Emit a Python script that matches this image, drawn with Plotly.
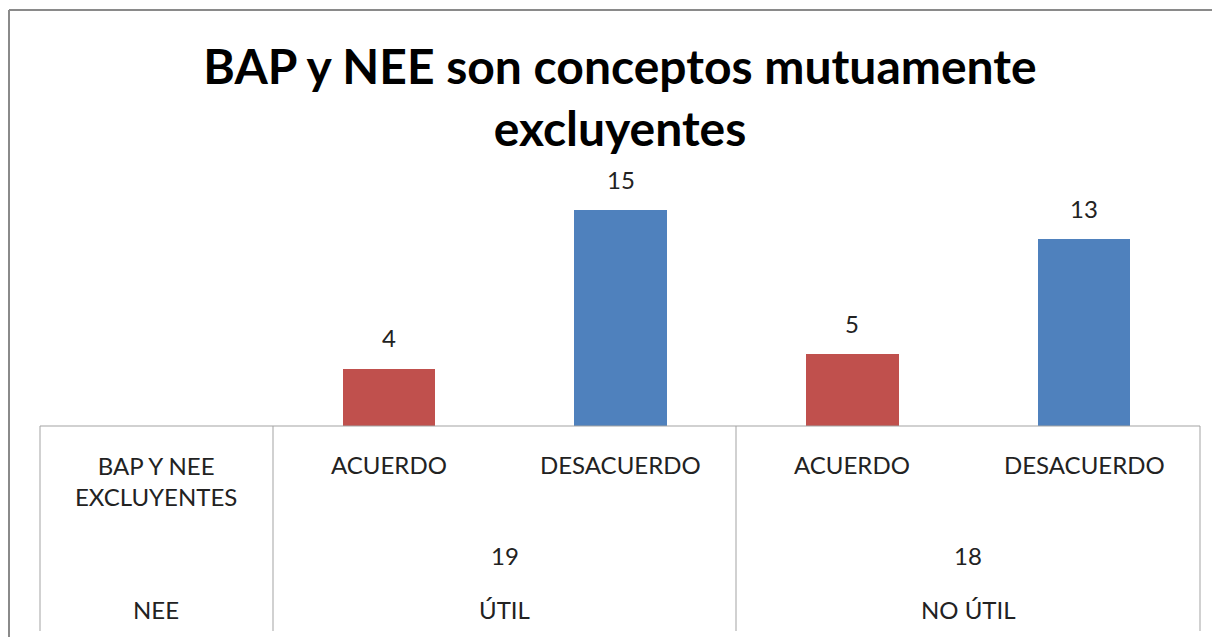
import plotly.graph_objects as go

# ---- data ----
categories = ["ACUERDO", "DESACUERDO", "ACUERDO", "DESACUERDO"]
values = [4, 15, 5, 13]
groups = ["ÚTIL", "NO ÚTIL"]
group_totals = [19, 18]
row_headers = ["BAP Y NEE<br>EXCLUYENTES", "NEE"]
title_text = "BAP y NEE son conceptos mutuamente<br>excluyentes"

W, H = 1220, 637
OFF = 8  # page body margin
RED = "#C0504D"
BLUE = "#4F81BD"
GRID = "#A3A3A3"
FONT = "Lato, 'Open Sans', sans-serif"
TXT = 24


def px(x):
    return (x - OFF) / W


def py(y):
    return 1 - (y - OFF) / H


xpos = list(range(len(categories)))
colors = [RED if c == "ACUERDO" else BLUE for c in categories]

fig = go.Figure()
fig.add_trace(go.Bar(
    x=xpos, y=values, width=0.4,
    marker=dict(color=colors, line=dict(width=0)),
    hovertext=categories, showlegend=False,
))

annotations = []
# data labels above bars
for xi, v in zip(xpos, values):
    annotations.append(dict(x=xi, y=v, xref="x", yref="y", text=str(v),
                            showarrow=False, yanchor="bottom", yshift=14,
                            font=dict(family=FONT, size=TXT, color="#222")))
# category labels row
for xi, c in zip(xpos, categories):
    annotations.append(dict(x=xi, y=py(464), xref="x", yref="paper", text=c,
                            showarrow=False, xanchor="center", yanchor="middle",
                            font=dict(family=FONT, size=TXT, color="#222")))
# group totals and group names
per = len(categories) // len(groups)
for gi, (g, t) in enumerate(zip(groups, group_totals)):
    center = gi * per + (per - 1) / 2
    annotations.append(dict(x=center, y=py(555), xref="x", yref="paper", text=str(t),
                            showarrow=False, xanchor="center", yanchor="middle",
                            font=dict(family=FONT, size=TXT, color="#222")))
    annotations.append(dict(x=center, y=py(609), xref="x", yref="paper", text=g,
                            showarrow=False, xanchor="center", yanchor="middle",
                            font=dict(family=FONT, size=TXT, color="#222")))
# row headers
annotations.append(dict(x=px(156), y=py(481), xref="paper", yref="paper", text=row_headers[0],
                        showarrow=False, xanchor="center", yanchor="middle",
                        font=dict(family=FONT, size=TXT, color="#222")))
annotations.append(dict(x=px(156), y=py(609), xref="paper", yref="paper", text=row_headers[1],
                        showarrow=False, xanchor="center", yanchor="middle",
                        font=dict(family=FONT, size=TXT, color="#222")))

line = dict(color=GRID, width=1)
shapes = [
    # outer chart border (left + top)
    dict(type="line", xref="paper", yref="paper", x0=px(9), x1=px(9), y0=py(10), y1=py(660),
         line=dict(color="#8A8A8A", width=2)),
    dict(type="line", xref="paper", yref="paper", x0=px(9), x1=px(1240), y0=py(10), y1=py(10),
         line=dict(color="#8A8A8A", width=2)),
    # table top / axis line
    dict(type="line", xref="paper", yref="paper", x0=px(40), x1=px(1200), y0=py(426), y1=py(426), line=line),
]
for xv in [40, 273, 736, 1200]:
    shapes.append(dict(type="line", xref="paper", yref="paper", x0=px(xv), x1=px(xv),
                       y0=py(426), y1=py(631), line=line))

fig.update_layout(
    width=W, height=H,
    margin=dict(l=0, r=0, t=0, b=0),
    paper_bgcolor="white", plot_bgcolor="white",
    title=dict(text=title_text, x=px(620), xanchor="center", xref="paper",
               y=py(84), yanchor="middle", yref="paper",
               font=dict(family=FONT, size=48, color="#000", weight="bold")),
    xaxis=dict(domain=[px(273), px(1200)], range=[-0.5, 3.5], showticklabels=False,
               showgrid=False, zeroline=False, showline=False, fixedrange=True),
    yaxis=dict(domain=[py(426), py(426 - 16 * 14.4)], range=[0, 16], showticklabels=False,
               showgrid=False, zeroline=False, showline=False, fixedrange=True),
    annotations=annotations,
    shapes=shapes,
    bargap=0,
)

fig.write_html("out.html")
